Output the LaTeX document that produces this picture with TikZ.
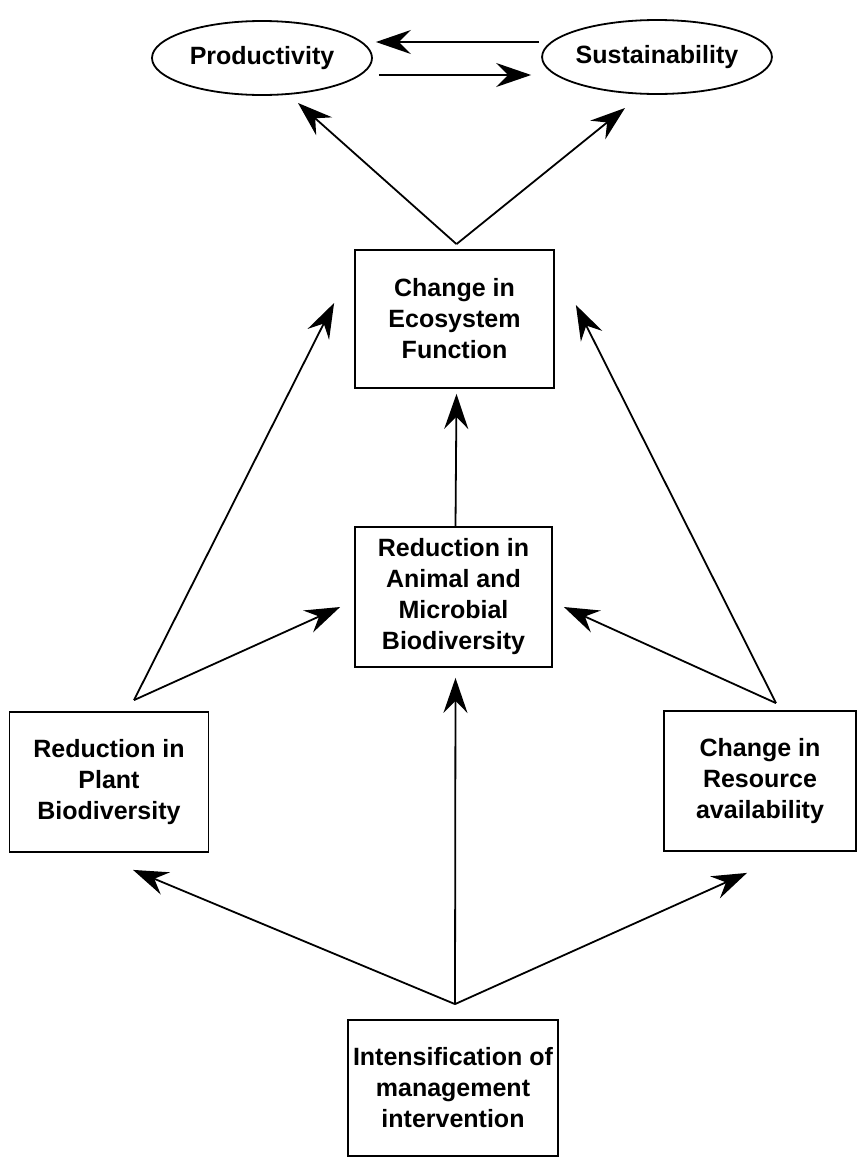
\documentclass[tikz,border=0pt]{standalone}
\usepackage{fontspec}
\setmainfont{Liberation Sans}
\usetikzlibrary{arrows.meta,shapes.geometric,calc}
\begin{document}
\begin{tikzpicture}[x=1pt,y=-1pt,
  line width=1.8pt,
  every node/.style={font=\fontsize{25}{31}\selectfont\bfseries, align=center, inner sep=0pt},
  oval/.style={ellipse, draw, minimum width=220pt, minimum height=74pt},
  card/.style={rectangle, draw, minimum height=138pt},
  conn/.style={-{Stealth[length=35pt,width=24pt,inset=12pt]}, line width=1.8pt}
]
\useasboundingbox (0,0) rectangle (857,1157);

% outcomes
\node[oval] (prod) at (262,58) {Productivity};
\node[oval] (sust) at (657,57) {Sustainability};

% boxes
\node[card, minimum width=199pt] (eco)   at (454.5,319) {Change in\\Ecosystem\\Function};
\node[card, minimum width=197pt, minimum height=140pt] (anim)  at (453.5,597) {Reduction in\\Animal and\\Microbial\\Biodiversity};
\node[card, minimum width=199pt, minimum height=140pt] (plant) at (109,782) {Reduction in\\Plant\\Biodiversity};
\node[card, minimum width=192pt, minimum height=140pt] (res)   at (760,781) {Change in\\Resource\\availability};
\node[card, minimum width=210pt, minimum height=136pt] (inten) at (453,1088) {Intensification of\\management\\intervention};

% branching points just above the boxes
\coordinate (ecoTop)   at ($(eco.north)+(2,-5)$);
\coordinate (plantTop) at ($(plant.north)+(25,-11)$);
\coordinate (resTop)   at ($(res.north)+(16,-7)$);
\coordinate (intenTop) at ($(inten.north)+(2,-15)$);

% between the two outcomes
\draw[conn] ($(sust.west)+(-2,-15)$) -- ($(prod.east)+(3,-16)$);
\draw[conn] ($(prod.east)+(6,17)$) -- ($(sust.west)+(-10,18)$);

% ecosystem function to outcomes
\draw[conn] (ecoTop) -- ($(prod.center)+(36,45)$);
\draw[conn] (ecoTop) -- ($(sust.center)+(-32,51)$);

% plant biodiversity
\draw[conn] (plantTop) -- ($(eco.west)+(-20,-16)$);
\draw[conn] (plantTop) -- ($(anim.west)+(-14,10)$);

% resource availability
\draw[conn] (resTop) -- ($(eco.east)+(21,-14)$);
\draw[conn] (resTop) -- ($(anim.east)+(11,10)$);

% animal and microbial biodiversity to ecosystem function
\draw[conn] ($(anim.north)+(2,0)$) -- ($(eco.south)+(2,5)$);

% management intervention
\draw[conn] (intenTop) -- ($(plant.south)+(24,17)$);
\draw[conn] (intenTop) -- ($(anim.south)+(2,10)$);
\draw[conn] (intenTop) -- ($(res.south)+(-13,21)$);
\end{tikzpicture}
\end{document}
